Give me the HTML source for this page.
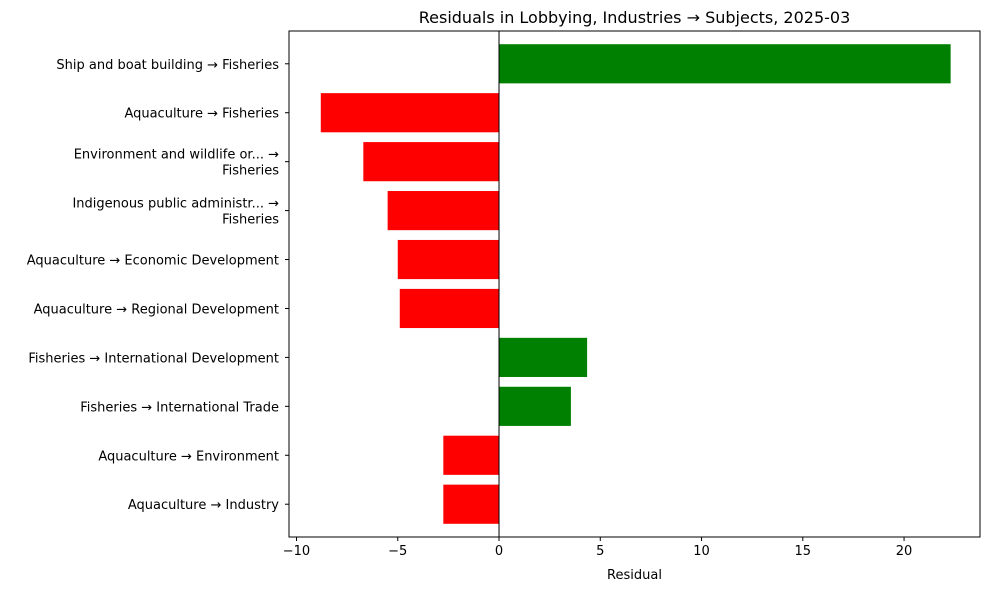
<!DOCTYPE html>
<html><head><meta charset="utf-8"><style>
body{margin:0;background:#fff;font-family:"Liberation Sans","DejaVu Sans",sans-serif;}
svg text{font-family:"DejaVu Sans","Liberation Sans",sans-serif;}
</style></head><body>
<svg id="chart" width="990" height="590" xmlns="http://www.w3.org/2000/svg"></svg>
<script>
const categories = ["Ship and boat building → Fisheries","Aquaculture → Fisheries","Environment and wildlife or... →|Fisheries","Indigenous public administr... →|Fisheries","Aquaculture → Economic Development","Aquaculture → Regional Development","Fisheries → International Development","Fisheries → International Trade","Aquaculture → Environment","Aquaculture → Industry"];
const values = [22.3, -8.8, -6.7, -5.5, -5.0, -4.9, 4.35, 3.55, -2.75, -2.75];
const xTicks = [-10, -5, 0, 5, 10, 15, 20];

const svg = document.getElementById('chart');
const NS = 'http://www.w3.org/2000/svg';
const L = 289, R = 980, T = 31, B = 537;
const xMin = -10.37, xMax = 23.75;
const x = v => L + (v - xMin) / (xMax - xMin) * (R - L);
const n = categories.length;
const step = (B - T) / (n - 1 + 0.8 + 2*0.27);
const yc = i => T + step*(0.4+0.27) + i*step;
function mk(tag, attrs, parent){const e=document.createElementNS(NS,tag);for(const k in attrs)e.setAttribute(k,attrs[k]);(parent||svg).appendChild(e);return e;}

const title = mk('text',{x:(L+R)/2,y:23,'text-anchor':'middle','font-size':16,fill:'#000'});


title.textContent='Residuals in Lobbying, Industries → Subjects, 2025-03';

values.forEach((v,i)=>{
  const r = mk('rect',{x:Math.min(x(0),x(v)),y:yc(i)-step*0.4,width:Math.abs(x(v)-x(0)),height:step*0.8,fill:v>=0?'#008000':'#ff0000'});
  
  
  const lines = categories[i].split('|');
  mk('line',{x1:L-4,x2:L,y1:yc(i),y2:yc(i),stroke:'#000','stroke-width':1});
  const t = mk('text',{x:L-10,'text-anchor':'end','font-size':13,fill:'#000'});
  
  
  lines.forEach((ln,j)=>{const ts=mk('tspan',{x:L-10,y:yc(i)+5+(j-(lines.length-1)/2)*16},t);ts.textContent=ln;});
});

const zero = mk('line',{x1:x(0),x2:x(0),y1:T,y2:B,stroke:'#000','stroke-width':1});



const frame = mk('rect',{x:L,y:T,width:R-L,height:B-T,fill:'none',stroke:'#000','stroke-width':1});



xTicks.forEach(v=>{
  mk('line',{x1:x(v),x2:x(v),y1:B,y2:B+4,stroke:'#000','stroke-width':1});
  const t = mk('text',{x:x(v),y:B+18,'text-anchor':'middle','font-size':13,fill:'#000'});
  
  
  t.textContent = v<0 ? '−'+Math.abs(v) : String(v);
});
const xl = mk('text',{x:(L+R)/2,y:579,'text-anchor':'middle','font-size':13,fill:'#000'});


xl.textContent='Residual';
</script>
</body></html>
